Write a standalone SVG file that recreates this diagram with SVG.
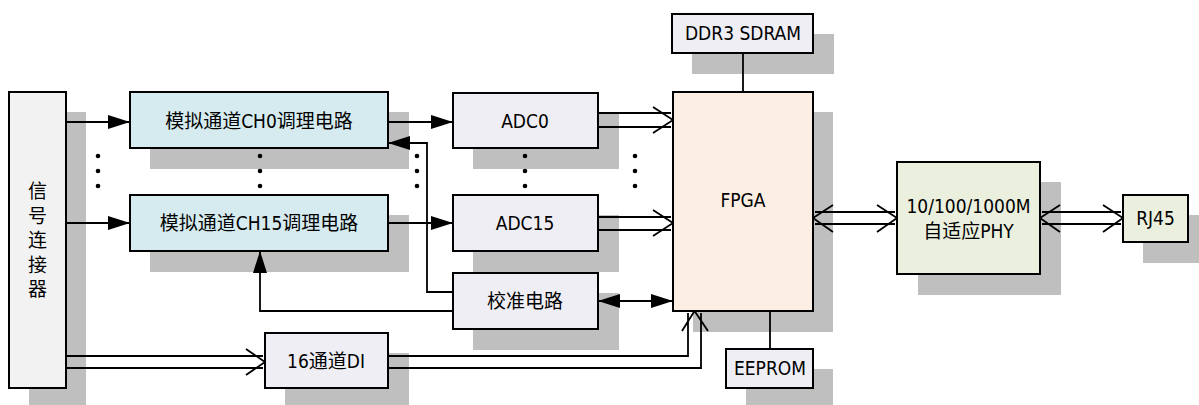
<svg xmlns="http://www.w3.org/2000/svg" width="1199" height="405" viewBox="0 0 1199 405">
<style>
.sh{fill:#bfbfbf}
.bx{stroke:#000;stroke-width:2}
.t{font-family:"DejaVu Sans Condensed","Noto Sans CJK SC",sans-serif;font-size:19px;fill:#000;text-anchor:middle;dominant-baseline:central}
.ln{fill:none;stroke:#000;stroke-width:1.8}
</style>
<defs>
<marker id="fa" markerWidth="22" markerHeight="14" refX="22" refY="7" orient="auto" markerUnits="userSpaceOnUse">
<path d="M0,0 L22,7 L0,14 Z" fill="#000"/>
</marker>
</defs>
<rect width="1199" height="405" fill="#fff"/>
<g id="shadows">
<rect class="sh" x="29" y="112" width="57" height="296"/>
<rect class="sh" x="150" y="112" width="259" height="57"/>
<rect class="sh" x="150" y="215" width="259" height="57"/>
<rect class="sh" x="473" y="112" width="146" height="57"/>
<rect class="sh" x="473" y="215" width="146" height="57"/>
<rect class="sh" x="473" y="293" width="146" height="57"/>
<rect class="sh" x="285" y="353" width="124" height="55"/>
<rect class="sh" x="693" y="112" width="140" height="220"/>
<rect class="sh" x="692" y="34" width="142" height="40"/>
<rect class="sh" x="746" y="369" width="87" height="40"/>
<rect class="sh" x="918" y="182" width="143" height="113"/>
<rect class="sh" x="1143" y="215" width="65" height="48"/>
</g>
<g id="connectors">
<line class="ln" x1="66" y1="122" x2="130" y2="122" marker-end="url(#fa)"/>
<line class="ln" x1="66" y1="223" x2="130" y2="223" marker-end="url(#fa)"/>
<line class="ln" x1="388" y1="122" x2="453" y2="122" marker-end="url(#fa)"/>
<line class="ln" x1="388" y1="223" x2="453" y2="223" marker-end="url(#fa)"/>
<polyline class="ln" points="453,292 427,292 427,143 388,143" marker-end="url(#fa)"/>
<polyline class="ln" points="453,311 260,311 260,251" marker-end="url(#fa)"/>
<line class="ln" x1="620" y1="301" x2="598" y2="301" marker-end="url(#fa)"/>
<line class="ln" x1="620" y1="301" x2="673" y2="301" marker-end="url(#fa)"/>
<path class="ln" d="M598,113 H671 M598,127 H671 M653,107 L673,120 L653,133"/>
<path class="ln" d="M598,217 H671 M598,230 H671 M653,210 L673,223 L653,236"/>
<path class="ln" d="M66,356 H263 M66,368 H263 M246,349 L265,362 L246,375"/>
<path class="ln" d="M388,356 H688 V313 M388,368 H701 V313 M682,331 L694.5,311 L708,331"/>
<line class="ln" x1="743" y1="53" x2="743" y2="92"/>
<line class="ln" x1="770" y1="311" x2="770" y2="349"/>
<path class="ln" d="M815,212 H895 M815,224 H895 M833,205 L813,218 L833,232 M877,205 L897,218 L877,232"/>
<path class="ln" d="M1042,212 H1121 M1042,224 H1121 M1060,205 L1040,218 L1060,232 M1103,205 L1123,218 L1103,232"/>
</g>
<g id="dots" fill="#000">
<circle cx="98" cy="156" r="2.3"/><circle cx="98" cy="171" r="2.3"/><circle cx="98" cy="186" r="2.3"/>
<circle cx="260" cy="156" r="2.3"/><circle cx="260" cy="171" r="2.3"/><circle cx="260" cy="186" r="2.3"/>
<circle cx="417" cy="156" r="2.3"/><circle cx="417" cy="171" r="2.3"/><circle cx="417" cy="186" r="2.3"/>
<circle cx="525" cy="156" r="2.3"/><circle cx="525" cy="171" r="2.3"/><circle cx="525" cy="186" r="2.3"/>
<circle cx="635" cy="156" r="2.3"/><circle cx="635" cy="171" r="2.3"/><circle cx="635" cy="186" r="2.3"/>
</g>
<g id="connector-node">
<rect class="bx" x="9" y="92" width="57" height="296" fill="#f2f2f2"/>
<text class="t" x="37.5" y="191">信</text>
<text class="t" x="37.5" y="216">号</text>
<text class="t" x="37.5" y="240">连</text>
<text class="t" x="37.5" y="265">接</text>
<text class="t" x="37.5" y="289">器</text>
</g>
<g id="ch0">
<rect class="bx" x="130" y="92" width="258" height="56" fill="#d5ebef"/>
<text class="t" x="259" y="121">模拟通道CH0调理电路</text>
</g>
<g id="ch15">
<rect class="bx" x="130" y="195" width="258" height="56" fill="#d5ebef"/>
<text class="t" x="259" y="223">模拟通道CH15调理电路</text>
</g>
<g id="adc0">
<rect class="bx" x="453" y="93" width="145" height="55" fill="#efeef4"/>
<text class="t" x="525" y="121">ADC0</text>
</g>
<g id="adc15">
<rect class="bx" x="453" y="195" width="145" height="56" fill="#efeef4"/>
<text class="t" x="525" y="223">ADC15</text>
</g>
<g id="calib">
<rect class="bx" x="453" y="273" width="145" height="56" fill="#efeef4"/>
<text class="t" x="525" y="301">校准电路</text>
</g>
<g id="di">
<rect class="bx" x="265" y="333" width="123" height="55" fill="#efeef4"/>
<text class="t" x="326" y="361">16通道DI</text>
</g>
<g id="fpga">
<rect class="bx" x="673" y="92" width="140" height="219" fill="#fdeee3"/>
<text class="t" x="743" y="200">FPGA</text>
</g>
<g id="ddr3">
<rect class="bx" x="672" y="14" width="141" height="39" fill="#efeef4"/>
<text class="t" x="743" y="33">DDR3 SDRAM</text>
</g>
<g id="eeprom">
<rect class="bx" x="726" y="349" width="87" height="39" fill="#efeef4"/>
<text class="t" x="770" y="368">EEPROM</text>
</g>
<g id="phy">
<rect class="bx" x="897" y="162" width="143" height="112" fill="#ebf0de"/>
<text class="t" x="968.5" y="206">10/100/1000M</text>
<text class="t" x="968.5" y="231">自适应PHY</text>
</g>
<g id="rj45">
<rect class="bx" x="1123" y="195" width="65" height="47" fill="#ebf0de"/>
<text class="t" x="1155.5" y="218">RJ45</text>
</g>
</svg>
